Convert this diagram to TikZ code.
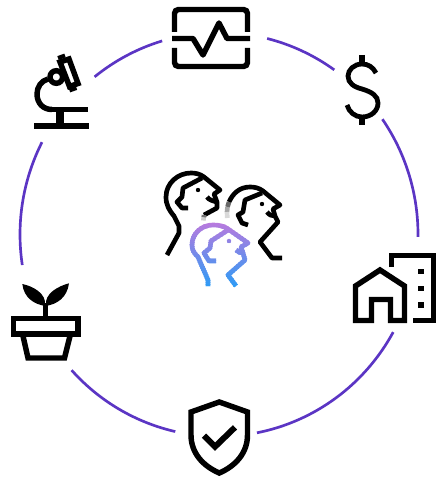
\documentclass[tikz,border=0pt]{standalone}
\definecolor{ringcolor}{RGB}{91,53,196}
\definecolor{headtop}{RGB}{184,122,222}
\definecolor{headbottom}{RGB}{45,155,245}
\tikzset{every picture/.style={line width=0.75pt}}
\tikzset{
  ringline/.style={color=ringcolor,line width=2pt},
  iconline/.style={line width=4.1pt,miter limit=10},
  headline/.style={line width=3.5pt,line join=round},
}
\newcommand{\headthreepath}{(208,286) -- (208,280) -- (198,257) .. controls (194,253) and (192,250) .. (192,245) .. controls (192,233) and (202,225) .. (213,225) .. controls (219,225) and (224,226) .. (228,229) -- (248,243) -- (241,247) -- (243,253) -- (245,260) -- (228,275) -- (236,286)
  (228,230) -- (211,241) -- (210,248) -- (204,253) -- (209,261) -- (216,261)
  (236,250) .. controls (238,252) and (240,253) .. (243,253)}

\begin{document}
\begin{tikzpicture}[x=0.75pt,y=0.75pt,yscale=-1,xscale=1]
\useasboundingbox (0,0) rectangle (436,478);

%Curve Lines: ring between the icons
\coordinate (ring) at (219,234.5);
\foreach \from/\to in {231.3/253.4,284/305.4,325.2/360.7,28.9/79,102.7/137.8,171.3/207.2}
  \draw[ringline] (ring) ++(\from:199 and 202) arc[start angle=\from,end angle=\to,x radius=199,y radius=202];

%Shape: Monitor
\draw[iconline,rounded corners=3pt] (174.5,32) -- (174.5,9.5) -- (247.5,9.5) -- (247.5,32);
\draw[iconline,rounded corners=3pt] (174.5,48) -- (174.5,66.5) -- (247.5,66.5) -- (247.5,48);
\draw[iconline,line join=round] (172,38.5) -- (193,38.5) -- (203,55) -- (219,23) -- (227,38.5) -- (250,38.5);

%Shape: Dollar
\draw[line width=3.6pt] (376,73) .. controls (373,67) and (368,64) .. (362,64) .. controls (354,64) and (348,70) .. (348,76) .. controls (348,83) and (354,87) .. (362,89) .. controls (372,92) and (378,96) .. (378,103) .. controls (378,111) and (371,117) .. (362,117) .. controls (355,117) and (349,112) .. (347,105);
\draw[line width=4.6pt] (362,55) -- (362,64);
\draw[line width=4.6pt] (362,117) -- (362,125);

%Shape: Building
\draw[iconline] (391.5,267) -- (391.5,255.5) -- (433.5,255.5) -- (433.5,320.5) -- (413,320.5);
\fill (418,268.5) rectangle (423.5,274);
\fill (418,285.5) rectangle (423.5,291);
\fill (418,302) rectangle (423.5,307.5);
\draw[iconline] (355.5,320.5) -- (355.5,286) -- (380,270) -- (404.5,286) -- (404.5,320.5) -- (390.5,320.5) -- (390.5,299.5) -- (371.5,299.5) -- (371.5,320.5) -- cycle;

%Shape: Shield
\draw[iconline] (219.3,402) -- (191,412) -- (191,435) .. controls (191,453) and (203,466) .. (219.3,473) .. controls (235.5,466) and (247.5,453) .. (247.5,435) -- (247.5,412) -- cycle;
\draw[line width=4.5pt] (204,435.7) -- (215,446.7) -- (235,427.3);

%Shape: Plant
\draw[iconline] (13.5,318.5) rectangle (78,334);
\draw[iconline] (23,336) -- (28,358) -- (64.5,358) -- (70,336);
\draw[iconline] (45.7,303) -- (45.7,317);
\fill (22.3,284) .. controls (32,286) and (47,293) .. (45,306) .. controls (34,304) and (24,298) .. (22.3,284) -- cycle;
\fill (69,283.3) .. controls (59,286) and (44,293) .. (46,306) .. controls (57,304) and (67,298) .. (69,283.3) -- cycle;

%Shape: Microscope
\draw[line width=4.6pt] (34,126) -- (88.5,126);
\draw[line width=4.4pt] (48,109.5) -- (87.5,109.5);
\draw[line width=6pt] (59.7,109) -- (59.7,126);
\draw[iconline] (48,79) .. controls (41,81) and (37,87) .. (37,94) .. controls (37,103) and (43,109.5) .. (52,109.5);
\draw[iconline] (56.3,77) circle [radius=6.3];
\draw[iconline] (60,62) -- (69,59) -- (78,83.5) -- (69.5,86.5) -- cycle;
\draw[line width=3pt] (58,58) -- (65,55.5);
\draw[line width=3pt] (69.5,90.5) -- (76.5,88);

%Shape: Heads
\draw[headline] (167,255) -- (179,233) -- (179,226) -- (174,216) .. controls (169,210) and (166,205) .. (166,197) .. controls (166,183) and (178,173) .. (191,173) .. controls (196,173) and (200,174) .. (204,177) -- (220,190) -- (214,194) -- (217,202) -- (217,208) -- (204,215);
\draw[headline] (202,178) -- (183,188) -- (182,197) -- (177,202) -- (182,208) -- (188,208);
\draw[headline] (207,197) .. controls (209,200) and (213,201) .. (217,202);
\fill (198,190) circle [radius=2.2];
\draw[headline,black!55,line cap=butt] (204,215) -- (203.7,217.5);
\draw[headline,black!20,line cap=butt] (203.7,217.5) -- (203.4,220.5);

\draw[headline] (229,202) .. controls (233,193) and (240,187) .. (250,187) .. controls (255,187) and (259,188) .. (263,191) -- (280,205) -- (273,209) -- (275,216) -- (278,222) -- (260,242) -- (272,258) -- (282,258);
\draw[headline] (262,193) -- (245,200) -- (243,212) -- (238,215) -- (242,223) -- (248,225);
\draw[headline] (267,212) .. controls (269,215) and (272,216) .. (275,216);
\fill (262,204) circle [radius=2.2];
\draw[headline,black!60,line cap=butt] (229,202) -- (227.5,207);
\draw[headline,black!35,line cap=butt] (227.5,207) -- (227,212);
\draw[headline,black!15,line cap=butt] (227,212) -- (227.3,218);

%Shape: Head in colour, cut in bands
\foreach \i in {0,...,32}{
  \pgfmathsetmacro{\mix}{100*\i/32}
  \pgfmathsetmacro{\bandtop}{222+2*\i}
  \pgfmathsetmacro{\bandend}{224.4+2*\i}
  \begin{scope}
    \clip (185,\bandtop) rectangle (255,\bandend);
    \draw[headline,color=headbottom!\mix!headtop] \headthreepath;
    \fill[color=headbottom!\mix!headtop] (229,241) circle [radius=2.2];
  \end{scope}
}

\end{tikzpicture}
\end{document}
